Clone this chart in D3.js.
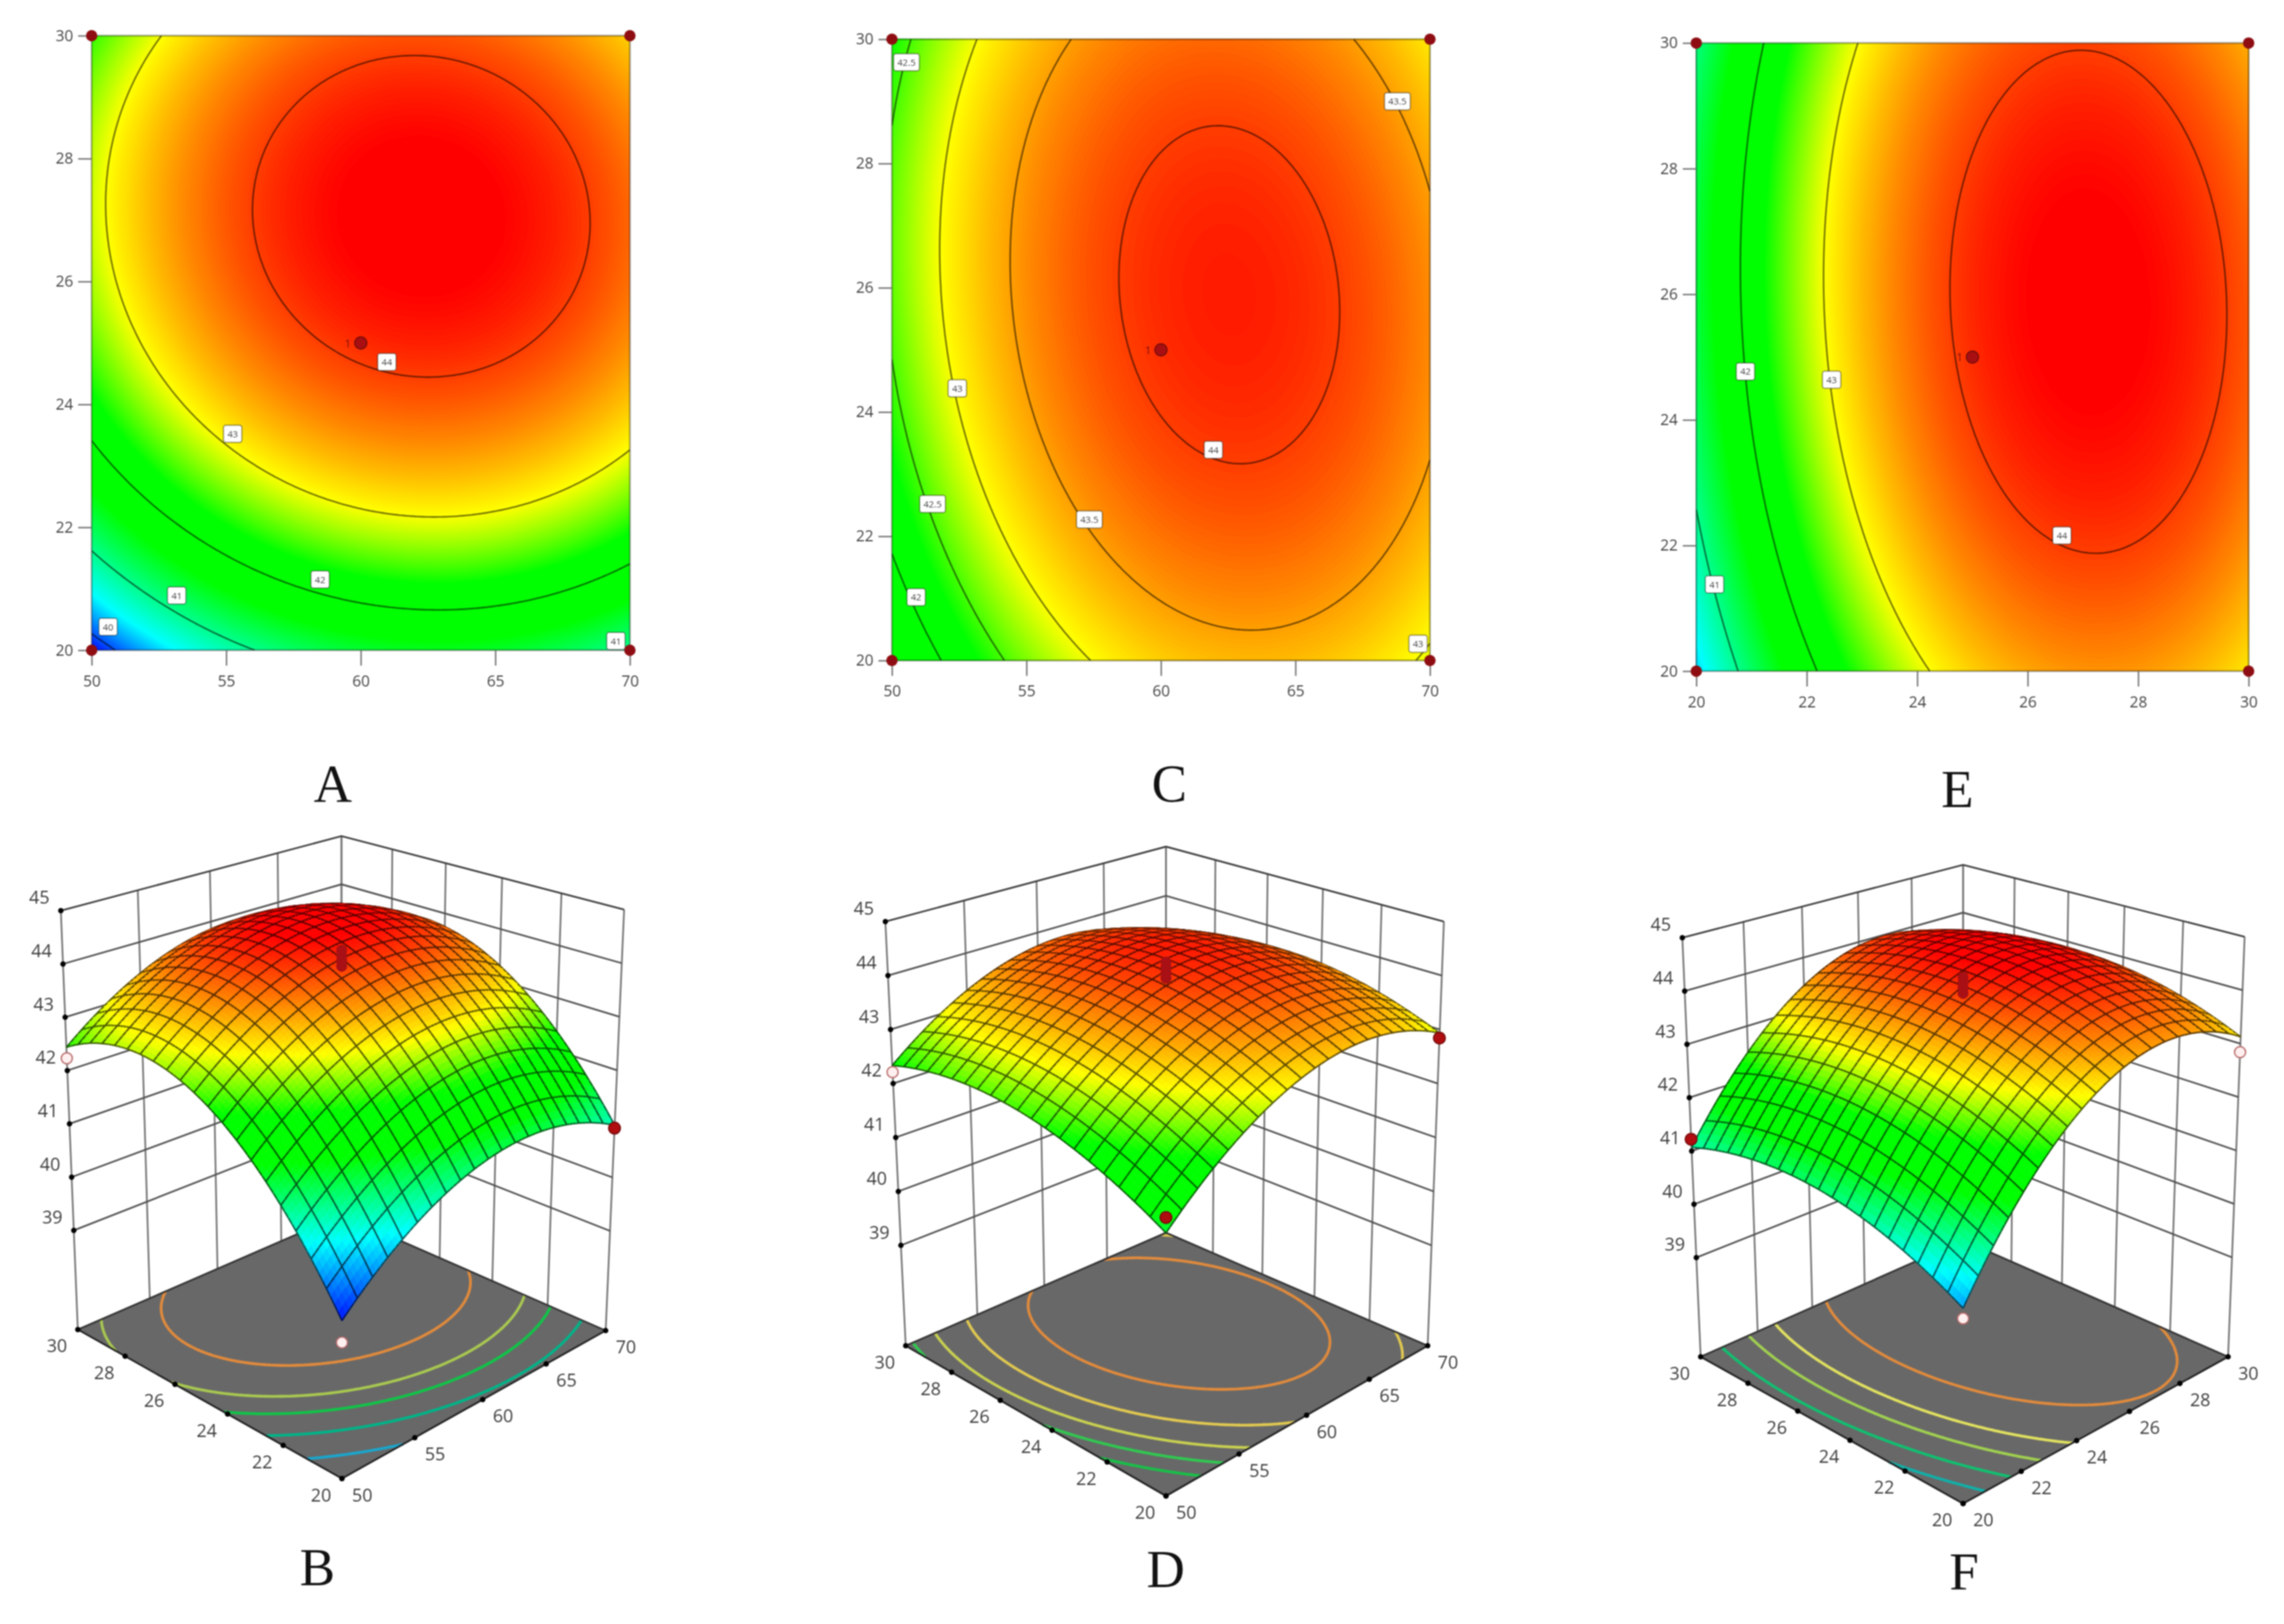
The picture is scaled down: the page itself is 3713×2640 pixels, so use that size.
<!DOCTYPE html>
<html><head><meta charset="utf-8">
<script src="https://cdnjs.cloudflare.com/ajax/libs/d3/7.8.5/d3.min.js"></script>
<style>html,body{margin:0;background:#fff}svg{display:block;filter:blur(1.1px)}</style>
</head><body><svg id="c" width="3713" height="2640"></svg>
<script>
// Values: response at low / mid / high of each factor
// rows = second factor low, mid, high; columns = first factor low, mid, high
const responseAB = [[39.775,41.395,40.975],[42.571,44.091,43.571],[42.436,43.856,43.236]];
const responseCD = [[41.532,43.253,42.933],[42.513,44.079,43.605],[42.334,43.744,43.115]];
const responseEF = [[40.371,43.249,43.126],[41.308,44.086,43.863],[41.069,43.747,43.424]];

const xTicksAC = [50,55,60,65,70], xTicksE = [20,22,24,26,28,30], yTicks = [20,22,24,26,28,30];
const zTicks = [39,40,41,42,43,44,45];
const levelsA = [40,41,42,43,44], levelsC = [42,42.5,43,43.5,44], levelsE = [41,42,43,44];
const floorLevelsB = [40.7,41.6,42.3,42.8,43.55], floorLevelsD = [42.12,42.45,42.78,43.18,43.7], floorLevelsF = [41.0,41.65,42.3,42.85,43.62];
const floorColoursB = ["#1aa6cc","#00b488","#10c448","#a8c850","#e08a3c"];
const floorColoursD = ["#18c048","#30c850","#c8d050","#e0c850","#e08a3c"];
const floorColoursF = ["#10b0a8","#10c070","#a0d050","#e0e060","#e08a3c"];

const labelsA = [[60.97,24.69,"44"],[55.24,23.52,"43"],[58.49,21.15,"42"],[53.16,20.89,"41"],[50.61,20.38,"40"],[69.48,20.15,"41"]];
const labelsC = [[50.54,29.63,"42.5"],[68.79,29.0,"43.5"],[52.43,24.38,"43"],[61.95,23.39,"44"],[51.51,22.52,"42.5"],[57.34,22.27,"43.5"],[50.9,21.02,"42"],[69.56,20.27,"43"]];
const labelsE = [[20.89,24.77,"42"],[22.45,24.64,"43"],[26.62,22.16,"44"],[20.33,21.38,"41"]];

// design points of the 3D views: [x, y, z, above surface?]
const pointsB = [[50,30,42.23,0],[70,20,40.92,1],[50,20,39.41,0]];
const pointsD = [[50,30,42.21,0],[70,20,42.84,1],[50,20,41.79,1]];
const pointsF = [[20,30,41.22,1],[30,20,42.84,0],[20,20,40.2,0]];
const centreRuns = [43.95,44.05,44.15,44.25];

const colourStops = [39.75,40.5,41.6,42.3,43.0,44.3];
const surfaceStops = [39.7,40.75,41.75,42.35,43.05,44.3];
const colourNames = ["#0000ff","#00ffff","#00ff00","#00ff00","#ffff00","#ff0000"];

const colour = d3.scaleLinear().domain(colourStops).range(colourNames).clamp(true);
const surfaceColour = d3.scaleLinear().domain(surfaceStops).range(colourNames).clamp(true);
const svg = d3.select("#c");
const FONT = "'Open Sans',sans-serif";

function response(table, cx, cy){
  const L = c => [c*(c-1)/2, 1-c*c, c*(c+1)/2];
  const a = L(cx), b = L(cy);
  let s = 0;
  for(let j=0;j<3;j++) for(let i=0;i<3;i++) s += b[j]*a[i]*table[j][i];
  return s;
}
function gridValues(table,n){
  const v = new Float64Array(n*n);
  for(let j=0;j<n;j++) for(let i=0;i<n;i++)
    v[j*n+i] = response(table, 2*i/(n-1)-1, 2*j/(n-1)-1);
  return v;
}

// ---------- contour panels ----------
function contourPanel(o){
  const g = svg.append("g");
  const x = d3.scaleLinear().domain(d3.extent(o.xTicks)).range([o.x0,o.x1]);
  const y = d3.scaleLinear().domain(d3.extent(yTicks)).range([o.y0,o.y1]);
  const n = 181, vals = gridValues(o.table,n);
  const id = "clip"+o.name;
  svg.append("clipPath").attr("id",id).append("rect").attr("x",o.x0).attr("y",o.y1).attr("width",o.x1-o.x0).attr("height",o.y0-o.y1);
  const fx = d3.scaleLinear().domain([0.5,n-0.5]).range(x.domain());
  const fy = d3.scaleLinear().domain([0.5,n-0.5]).range(y.domain());
  const path = d3.geoPath(d3.geoTransform({point(a,b){this.stream.point(x(fx(a)),y(fy(b)));}}));
  const plot = g.append("g").attr("clip-path",`url(#${id})`);
  plot.append("rect").attr("x",o.x0).attr("y",o.y1).attr("width",o.x1-o.x0).attr("height",o.y0-o.y1).attr("fill",colour(39));
  const th = d3.range(39.5,44.6,0.02);
  plot.selectAll("path.b").data(d3.contours().size([n,n]).thresholds(th)(vals)).join("path")
    .attr("class","b").attr("d",path).attr("fill",d=>colour(d.value));
  plot.selectAll("path.l").data(d3.contours().size([n,n]).thresholds(o.levels)(vals)).join("path")
    .attr("class","l").attr("d",d=>edgeless(d,n,(a,b)=>[x(fx(a)),y(fy(b))])).attr("fill","none")
    .attr("stroke","#000").attr("stroke-opacity",0.55).attr("stroke-width",2.6);
  g.append("rect").attr("x",o.x0).attr("y",o.y1).attr("width",o.x1-o.x0).attr("height",o.y0-o.y1)
    .attr("fill","none").attr("stroke","#000").attr("stroke-opacity",0.35).attr("stroke-width",3);
  const ax = g.append("g").attr("transform",`translate(0,${o.y0})`)
    .call(d3.axisBottom(x).tickValues(o.xTicks).tickSize(25).tickSizeOuter(0).tickPadding(16));
  const ay = g.append("g").attr("transform",`translate(${o.x0},0)`)
    .call(d3.axisLeft(y).tickValues(yTicks).tickSize(22).tickSizeOuter(0).tickPadding(8));
  [ax,ay].forEach(a=>{
    a.select(".domain").remove();
    a.selectAll("line").attr("stroke","#777").attr("stroke-width",2.4);
    a.selectAll("text").attr("fill","#444").attr("font-size",25).attr("font-family",FONT);
  });
  const lab = g.selectAll("g.lab").data(o.labels).join("g").attr("class","lab")
    .attr("transform",d=>`translate(${x(d[0])},${y(d[1])})`);
  lab.append("rect").attr("x",d=>-(d[2].length>2?21:15)).attr("y",-14).attr("width",d=>d[2].length>2?42:30).attr("height",28)
    .attr("rx",4).attr("fill","#fff").attr("stroke","#000").attr("stroke-opacity",0.4).attr("stroke-width",2);
  lab.append("text").attr("text-anchor","middle").attr("dy",5.5).attr("font-size",15).attr("font-family",FONT)
    .attr("fill","#444").text(d=>d[2]);
  const corners = [[0,0],[1,0],[0,1],[1,1]].map(([a,b])=>[x.domain()[a],y.domain()[b]]);
  g.selectAll("path.c").data(corners).join("path").attr("class","c")
    .attr("transform",d=>`translate(${x(d[0])},${y(d[1])})`)
    .attr("d",d3.symbol(d3.symbolCircle,270)).attr("fill","#8e0d12");
  const cx = x((x.domain()[0]+x.domain()[1])/2), cy = y(25);
  g.append("circle").attr("cx",cx).attr("cy",cy).attr("r",10).attr("fill","#a80f12").attr("stroke","#6a0a0a").attr("stroke-width",1.5);
  g.append("text").attr("x",cx-21).attr("y",cy+7).attr("text-anchor","middle").attr("font-size",18).attr("font-family",FONT).attr("fill","#7a1010").text("1");
}
function edgeless(mp,n,map){
  // contour lines without the part that runs along the border of the grid
  const on = (a,b)=> (a[0]<=0.5&&b[0]<=0.5)||(a[0]>=n-0.5&&b[0]>=n-0.5)||(a[1]<=0.5&&b[1]<=0.5)||(a[1]>=n-0.5&&b[1]>=n-0.5);
  const clampP = p=>[Math.min(n-0.5,Math.max(0.5,p[0])),Math.min(n-0.5,Math.max(0.5,p[1]))];
  let s="";
  mp.coordinates.forEach(poly=>poly.forEach(ring=>{
    let pen=false;
    for(let i=0;i<ring.length-1;i++){
      const a=clampP(ring[i]), b=clampP(ring[i+1]);
      if(on(a,b)){pen=false;continue;}
      const A=map(a[0],a[1]),B=map(b[0],b[1]);
      if(!pen){s+=`M${A[0].toFixed(1)},${A[1].toFixed(1)}`;pen=true;}
      s+=`L${B[0].toFixed(1)},${B[1].toFixed(1)}`;
    }
  }));
  return s;
}

// ---------- perspective helpers ----------
function squareToQuad(p0,p1,p2,p3){
  const dx1=p1[0]-p2[0],dx2=p3[0]-p2[0],sx=p0[0]-p1[0]+p2[0]-p3[0];
  const dy1=p1[1]-p2[1],dy2=p3[1]-p2[1],sy=p0[1]-p1[1]+p2[1]-p3[1];
  const den=dx1*dy2-dx2*dy1;
  const g=(sx*dy2-dx2*sy)/den,h=(dx1*sy-sx*dy1)/den;
  const a=p1[0]-p0[0]+g*p1[0],b=p3[0]-p0[0]+h*p3[0],c=p0[0];
  const d=p1[1]-p0[1]+g*p1[1],e=p3[1]-p0[1]+h*p3[1],f=p0[1];
  return (u,v)=>{const w=g*u+h*v+1;return [(a*u+b*v+c)/w,(d*u+e*v+f)/w];};
}

// ---------- surface panels ----------
function surfacePanel(o){
  const g = svg.append("g");
  const Lside=(o.leftFloor[1]-o.leftTop[1]+o.rightFloor[1]-o.rightTop[1])/2;
  const Lback=o.backFloor[1]-o.backTop[1];
  const Lfront=1/(2/Lside-1/Lback);
  const frontTop=[o.frontFloor[0],o.frontFloor[1]-Lfront];
  const floor=squareToQuad(o.frontFloor,o.rightFloor,o.backFloor,o.leftFloor);
  const top=squareToQuad(frontTop,o.rightTop,o.backTop,o.leftTop);
  const zScale=d3.scaleLinear().domain([37.14,45]).range([0,1]);
  const P=(u,v,z)=>{const a=floor(u,v),b=top(u,v),t=zScale(z);return [a[0]+(b[0]-a[0])*t,a[1]+(b[1]-a[1])*t];};
  const uScale=d3.scaleLinear().domain(d3.extent(o.xTicks)).range([0,1]);
  const vScale=d3.scaleLinear().domain(d3.extent(yTicks)).range([0,1]);
  const line=d3.line();
  // walls
  const wall=g.append("g").attr("fill","none").attr("stroke-width",2.8);
  o.xTicks.forEach(X=>{const u=uScale(X);wall.append("path").attr("d",line([P(u,1,37.14),P(u,1,45)])).attr("stroke","#747474");});
  yTicks.forEach(Y=>{const v=vScale(Y);wall.append("path").attr("d",line([P(1,v,37.14),P(1,v,45)])).attr("stroke","#747474");});
  zTicks.forEach(z=>{
    wall.append("path").attr("d",line([P(0,1,z),P(1,1,z),P(1,0,z)])).attr("stroke",z===45?"#3c3c3c":"#505050");
  });
  // floor
  g.append("path").attr("d",line([o.frontFloor,o.rightFloor,o.backFloor,o.leftFloor])+"Z").attr("fill","#686868");
  const n=161,vals=gridValues(o.table,n);
  const map=(a,b)=>floor((a-0.5)/(n-1),(b-0.5)/(n-1));
  g.selectAll("path.fl").data(d3.contours().size([n,n]).thresholds(o.floorLevels)(vals)).join("path").attr("class","fl")
    .attr("d",d=>edgeless(d,n,map)).attr("fill","none").attr("stroke",(d,i)=>o.floorColours[i]).attr("stroke-width",4.6);
  g.append("path").attr("d",line([o.leftFloor,o.frontFloor,o.rightFloor])).attr("fill","none").attr("stroke","#222").attr("stroke-width",3);
  g.append("path").attr("d",line([o.leftFloor,o.backFloor,o.rightFloor])).attr("fill","none").attr("stroke","#333").attr("stroke-width",3);
  // surface, painted from back to front
  const divs=20,sub=4,N=divs*sub;
  const Z=(i,j)=>response(o.table,2*i/N-1,2*j/N-1);
  const shade=d3.scaleLinear().domain([0,0.3]).range([0.38,1]).clamp(true);
  const hz=0.94/(45-37.14);
  const items=[];
  const cells=[];
  for(let j=0;j<N;j++)for(let i=0;i<N;i++)cells.push([i,j]);
  cells.sort((a,b)=>(b[0]+b[1])-(a[0]+a[1]));
  cells.forEach(([i,j])=>{
    const zc=response(o.table,2*(i+.5)/N-1,2*(j+.5)/N-1);
    const dzu=(Z(i+1,j)+Z(i+1,j+1)-Z(i,j)-Z(i,j+1))/2*N*hz;
    const dzv=(Z(i,j+1)+Z(i+1,j+1)-Z(i,j)-Z(i+1,j))/2*N*hz;
    const len=Math.sqrt(dzu*dzu+dzv*dzv+1);
    const ndv=(dzu*0.62+dzv*0.62+0.47)/len;
    const c=d3.interpolateRgb("#000",surfaceColour(zc))(shade(ndv));
    const p=[[i,j],[i+1,j],[i+1,j+1],[i,j+1]].map(([a,b])=>P(a/N,b/N,Z(a,b)));
    items.push({d:line(p)+"Z",fill:c,stroke:c,w:0.8});
    let m="";
    if(i%sub===0)m+=line([p[0],p[3]]);
    if(j%sub===0)m+=line([p[0],p[1]]);
    if((i+1)%sub===0)m+=line([p[1],p[2]]);
    if((j+1)%sub===0)m+=line([p[3],p[2]]);
    if(m)items.push({d:m,fill:"none",stroke:d3.interpolateRgb(c,"#000")(0.64),w:2.5});
  });
  g.append("g").selectAll("path").data(items).join("path")
    .attr("d",d=>d.d).attr("fill",d=>d.fill).attr("stroke",d=>d.stroke).attr("stroke-width",d=>d.w).attr("stroke-linejoin","round");
  // ticks and labels
  const dot=(p)=>g.append("circle").attr("cx",p[0]).attr("cy",p[1]).attr("r",4.4).attr("fill","#000");
  const txt=(p,dx,dy,s)=>g.append("text").attr("x",p[0]+dx).attr("y",p[1]+dy+10).attr("text-anchor","middle")
    .attr("font-size",29).attr("font-family",FONT).attr("fill","#3c3c3c").text(s);
  zTicks.forEach(z=>{const p=P(0,1,z);dot(p);txt(p,-35,-21,z);});
  yTicks.forEach(Y=>{const p=P(0,vScale(Y),37.14);dot(p);txt(p,-34,27,Y);});
  o.xTicks.forEach(X=>{const p=P(uScale(X),0,37.14);dot(p);txt(p,33,27,X);});
  // design points
  o.points.forEach(d=>{
    const p=P(uScale(d[0]),vScale(d[1]),d[2]);
    g.append("circle").attr("cx",p[0]).attr("cy",p[1]).attr("r",d[3]?9.5:9)
      .attr("fill",d[3]?"#b00d10":"#fff0f0").attr("stroke",d[3]?"#7a0a0a":"#b86a6a").attr("stroke-width",2.2);
  });
  const cu=0.5,cv=vScale(25);
  centreRuns.forEach(z=>{
    const p=P(cu,cv,z);
    g.append("circle").attr("cx",p[0]).attr("cy",p[1]).attr("r",9).attr("fill","#a81015");
  });
}

contourPanel({name:"A",x0:149,x1:1024,y0:1057,y1:58,table:responseAB,xTicks:xTicksAC,levels:levelsA,labels:labelsA});
contourPanel({name:"C",x0:1450,x1:2324.6,y0:1073.7,y1:63.8,table:responseCD,xTicks:xTicksAC,levels:levelsC,labels:labelsC});
contourPanel({name:"E",x0:2757.6,x1:3655.5,y0:1091,y1:69.9,table:responseEF,xTicks:xTicksE,levels:levelsE,labels:labelsE});

surfacePanel({table:responseAB,xTicks:xTicksAC,floorLevels:floorLevelsB,floorColours:floorColoursB,points:pointsB,
  leftTop:[98.9,1480.4],backTop:[555.1,1359.2],rightTop:[1014.6,1478.7],
  frontFloor:[555.9,2403.6],leftFloor:[126.5,2161.3],rightFloor:[984.6,2163],backFloor:[555.1,1975]});
surfacePanel({table:responseCD,xTicks:xTicksAC,floorLevels:floorLevelsD,floorColours:floorColoursD,points:pointsD,
  leftTop:[1439.3,1498.1],backTop:[1895.5,1376.3],rightTop:[2347.3,1498.1],
  frontFloor:[1895.5,2431.9],leftFloor:[1472.4,2187.7],rightFloor:[2320.9,2187.7],backFloor:[1895.5,2004]});
surfacePanel({table:responseEF,xTicks:xTicksE,floorLevels:floorLevelsF,floorColours:floorColoursF,points:pointsF,
  leftTop:[2734.9,1524.4],backTop:[3191.3,1405.9],rightTop:[3649,1522.8],
  frontFloor:[3191.3,2444.2],leftFloor:[2764.7,2205.6],rightFloor:[3622.1,2205.6],backFloor:[3191.3,2016.4]});

const letters=[["A",541,1303],["C",1901,1303],["E",3182,1312],["B",516,2577],["D",1895,2580],["F",3193,2584]];
svg.selectAll("text.letter").data(letters).join("text").attr("class","letter")
  .attr("x",d=>d[1]).attr("y",d=>d[2]).attr("text-anchor","middle").attr("font-size",86)
  .attr("font-family","'Liberation Serif',serif").attr("fill","#111").text(d=>d[0]);
</script></body></html>
